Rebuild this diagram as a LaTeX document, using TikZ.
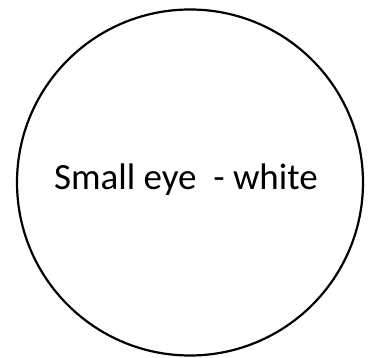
\documentclass[tikz,border=0pt]{standalone}
\usepackage{fontspec}
\setmainfont{Carlito}
\usepackage{tikz}
\usetikzlibrary{positioning}

\begin{document}
\begin{tikzpicture}[x=1pt, y=1pt, every node/.style={font=\fontsize{37}{44}\selectfont}]
    % Frame
    \useasboundingbox (0,0) rectangle (378,358);

    % Eye outline
    \node[circle, draw, line width=2.2pt, minimum size=346pt, inner sep=0pt] (eye) at (190,175.5) {};

    % Label
    \node[anchor=base, inner sep=0pt] (eyelabel) at (186,168) {Small eye~~- white};
\end{tikzpicture}
\end{document}
